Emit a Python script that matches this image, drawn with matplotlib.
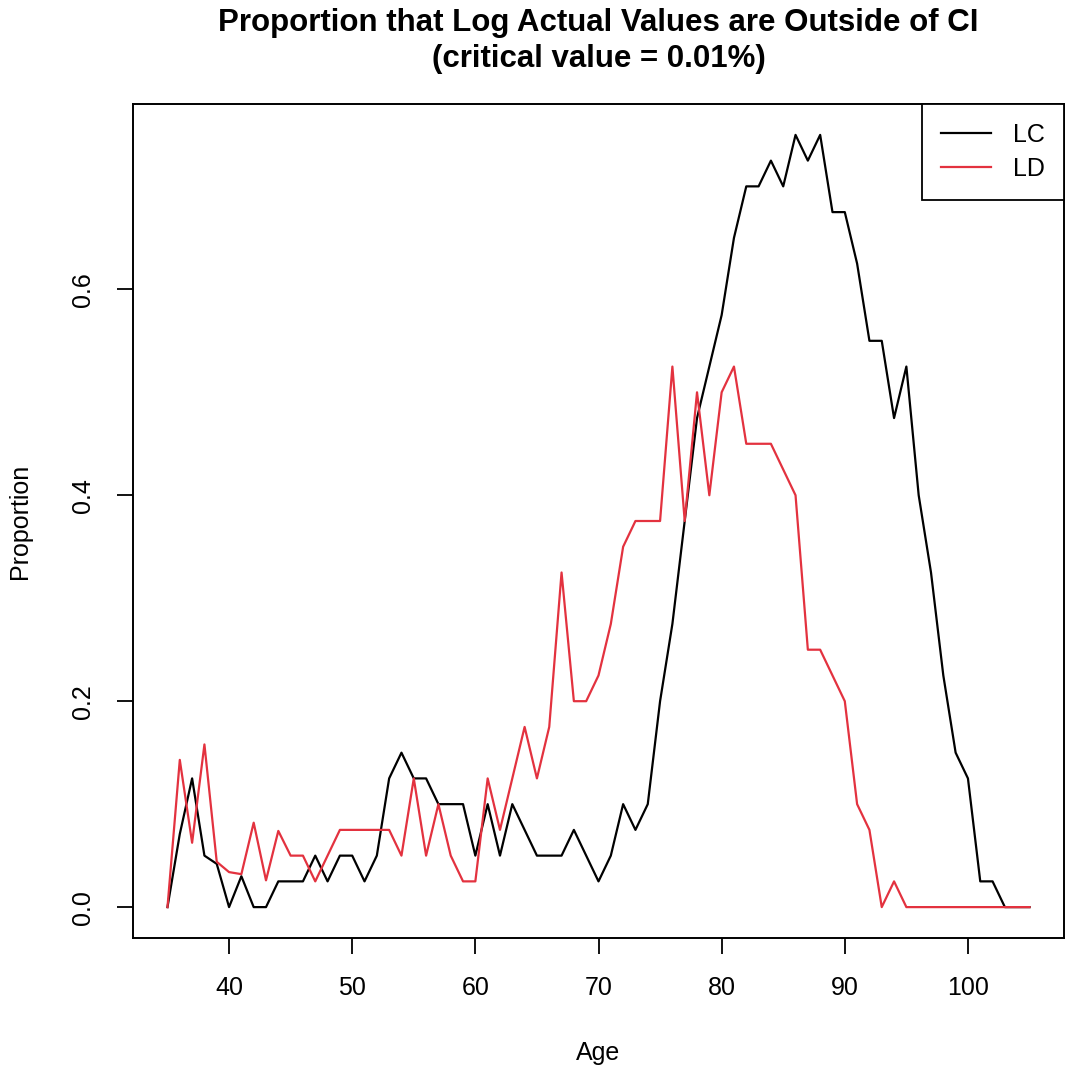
import matplotlib
matplotlib.use("Agg")
import matplotlib.pyplot as plt

ages = list(range(35, 106))

lc = [0.0, 0.071, 0.125, 0.05, 0.042, 0.0, 0.03, 0.0, 0.0, 0.025,
      0.025, 0.025, 0.05, 0.025, 0.05, 0.05, 0.025, 0.05, 0.125, 0.15,
      0.125, 0.125, 0.1, 0.1, 0.1, 0.05, 0.1, 0.05, 0.1, 0.075,
      0.05, 0.05, 0.05, 0.075, 0.05, 0.025, 0.05, 0.1, 0.075, 0.1,
      0.2, 0.275, 0.375, 0.475, 0.525, 0.575, 0.65, 0.7, 0.7, 0.725,
      0.7, 0.75, 0.725, 0.75, 0.675, 0.675, 0.625, 0.55, 0.55, 0.475,
      0.525, 0.4, 0.325, 0.225, 0.15, 0.125, 0.025, 0.025, 0.0, 0.0,
      0.0]

ld = [0.0, 0.143, 0.0625, 0.158, 0.044, 0.034, 0.032, 0.082, 0.026, 0.074,
      0.05, 0.05, 0.025, 0.05, 0.075, 0.075, 0.075, 0.075, 0.075, 0.05,
      0.125, 0.05, 0.1, 0.05, 0.025, 0.025, 0.125, 0.075, 0.125, 0.175,
      0.125, 0.175, 0.325, 0.2, 0.2, 0.225, 0.275, 0.35, 0.375, 0.375,
      0.375, 0.525, 0.375, 0.5, 0.4, 0.5, 0.525, 0.45, 0.45, 0.45,
      0.425, 0.4, 0.25, 0.25, 0.225, 0.2, 0.1, 0.075, 0.0, 0.025,
      0.0, 0.0, 0.0, 0.0, 0.0, 0.0, 0.0, 0.0, 0.0, 0.0,
      0.0]

series_names = ["LC", "LD"]
series_colors = ["black", "#E3323F"]
x_ticks = [40, 50, 60, 70, 80, 90, 100]
y_ticks = [0.0, 0.2, 0.4, 0.6]
y_tick_labels = ["0.0", "0.2", "0.4", "0.6"]

plt.rcParams["font.family"] = ["Liberation Sans", "DejaVu Sans"]

W, H = 1067, 1073
fig = plt.figure(figsize=(W / 100, H / 100), dpi=100)
ax = fig.add_axes([133 / W, 1 - 938 / H, (1064 - 133) / W, (938 - 104) / H])

for vals, name, col in zip([lc, ld], series_names, series_colors):
    ax.plot(ages, vals, color=col, lw=1.6, label=name)

ax.set_xlim(32.2, 107.8)
ax.set_ylim(-0.03, 0.78)
ax.set_xticks(x_ticks)
ax.set_yticks(y_ticks)
ax.set_yticklabels(y_tick_labels)
ax.tick_params(direction="out", length=11.5, width=1.3, labelsize=18, pad=16)
for lab in ax.get_yticklabels():
    lab.set_rotation(90)
    lab.set_va("center")
for s in ax.spines.values():
    s.set_linewidth(1.4)

ax.set_xlabel("Age", fontsize=18)
ax.xaxis.set_label_coords(0.5, (938 - 1053) / (938 - 104))
ax.xaxis.label.set_va("center")
ax.set_ylabel("Proportion", fontsize=18)
ax.yaxis.set_label_coords((20 - 133) / (1064 - 133), 0.5)
ax.yaxis.label.set_va("center")

leg = ax.legend(loc="upper right", borderaxespad=0, fancybox=False,
                edgecolor="black", framealpha=1, fontsize=18,
                handlelength=2.0, handletextpad=0.9, borderpad=0.75,
                labelspacing=0.42)
leg.get_frame().set_linewidth(1.3)

cx = (133 + 1064) / 2 / W
fig.text(cx, 1 - 23 / H, "Proportion that Log Actual Values are Outside of CI",
         ha="center", va="center", fontsize=22.5, fontweight="bold")
fig.text(cx, 1 - 59 / H, "(critical value = 0.01%)",
         ha="center", va="center", fontsize=22.5, fontweight="bold")

fig.savefig("out.png", dpi=100)
